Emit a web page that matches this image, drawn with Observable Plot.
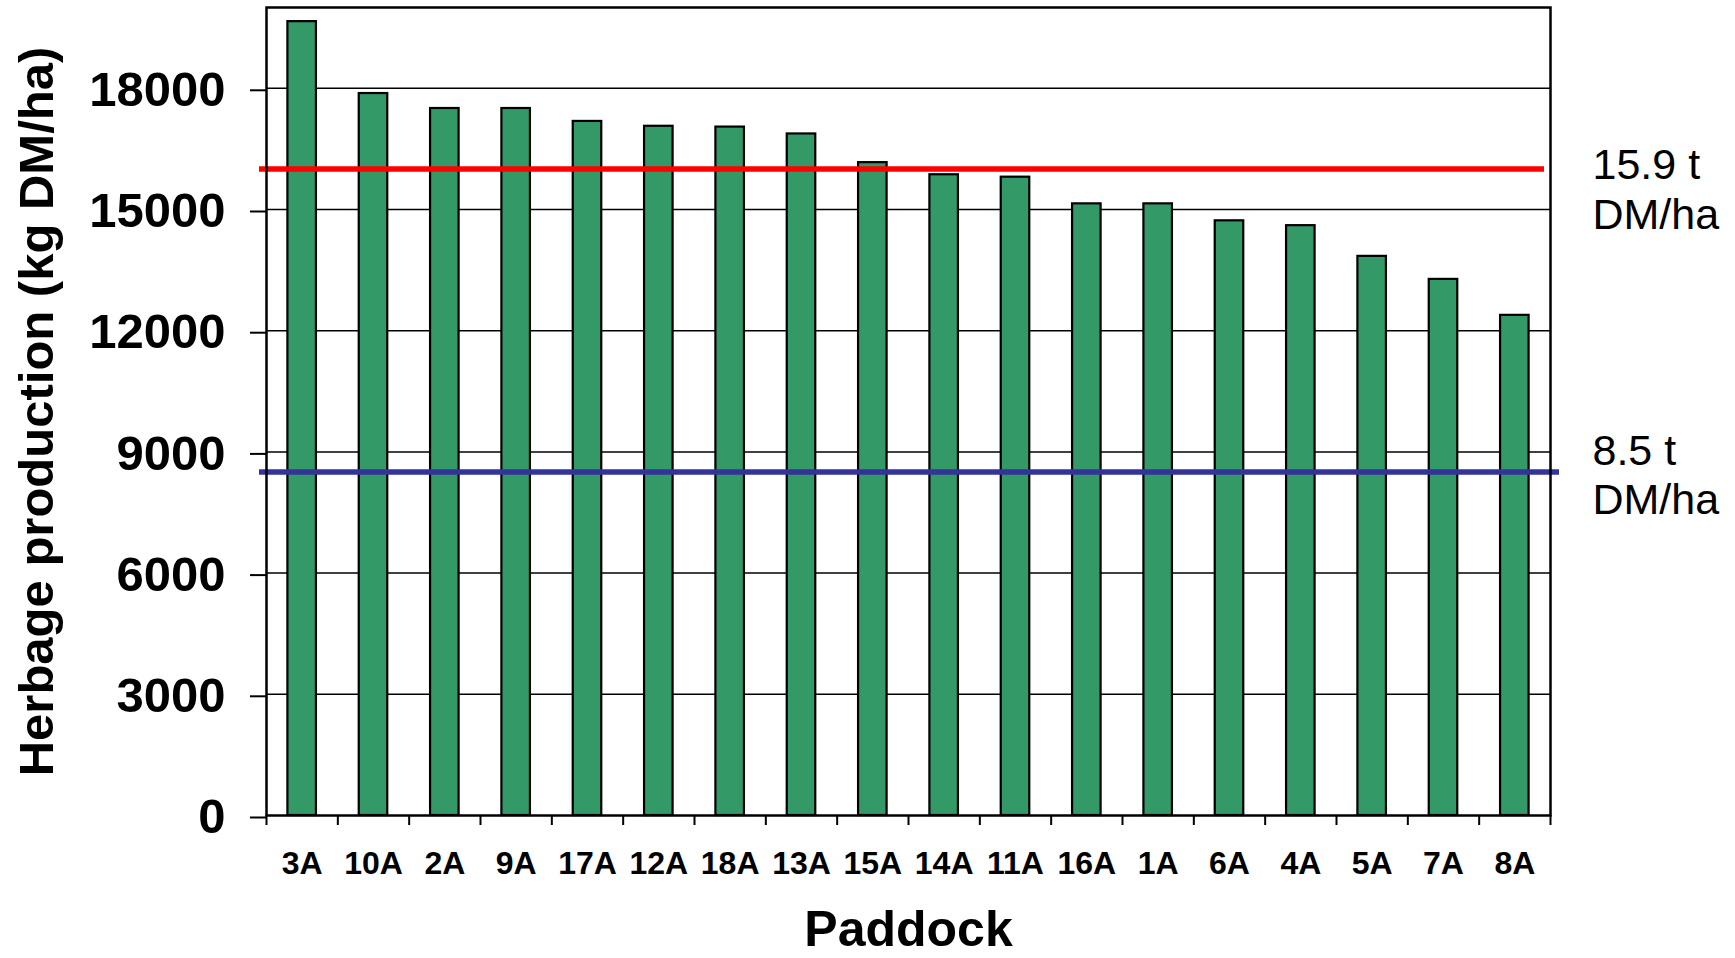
<!DOCTYPE html>
<html><head><meta charset="utf-8">
<script src="https://cdn.jsdelivr.net/npm/d3@7"></script>
<script src="https://cdn.jsdelivr.net/npm/@observablehq/plot@0.6"></script>
<style>html,body{margin:0;padding:0;background:#fff;}</style>
</head><body><div id="chart"></div>
<script>
const paddocks = ["3A","10A","2A","9A","17A","12A","18A","13A","15A","14A","11A","16A","1A","6A","4A","5A","7A","8A"];
const production = [19650,17870,17500,17500,17180,17060,17040,16870,16160,15860,15800,15140,15140,14720,14600,13840,13270,12380];
const yTicks = [0,3000,6000,9000,12000,15000,18000];
const highRef = 16000;
const lowRef = 8500;
const highLabel = "15.9 t\nDM/ha";
const lowLabel = "8.5 t\nDM/ha";
const xTitle = "Paddock";
const yTitle = "Herbage production (kg DM/ha)";

const data = paddocks.map((p, i) => ({paddock: p, value: production[i]}));

const W = 1735, H = 958;
const mL = 266, mR = 185, mT = 7, mB = 143;
const step = (W - mL - mR) / paddocks.length;
const font = "'Liberation Sans', Arial, Helvetica, sans-serif";

const chart = Plot.plot({
  width: W, height: H,
  marginLeft: mL, marginRight: mR, marginTop: mT, marginBottom: mB,
  style: {fontFamily: font, background: "#fff", color: "#000"},
  x: {domain: paddocks, type: "band", paddingInner: 0.6, paddingOuter: 0.3, round: false, label: null},
  y: {domain: [0, 20000], label: null},
  marks: [
    Plot.ruleY(yTicks.filter(d => d > 0), {stroke: "#000", strokeWidth: 1.5}),
    Plot.barY(data, {x: "paddock", y: "value", fill: "#339966", stroke: "#000", strokeWidth: 2.2}),
    Plot.ruleY([highRef], {stroke: "#ff0000", strokeWidth: 5.5, insetLeft: -7, insetRight: 6}),
    Plot.ruleY([lowRef], {stroke: "#333399", strokeWidth: 5.5, insetLeft: -7, insetRight: -9}),
    Plot.frame({stroke: "#000", strokeWidth: 2.5}),
    Plot.axisY({ticks: yTicks, tickSize: 16, tickPadding: 25, strokeWidth: 2,
      fontSize: 49, fontWeight: "bold", dy: 2, label: null, tickFormat: d => String(d)}),
    Plot.axisX({ticks: paddocks, tickSize: 10, fill: "none", strokeWidth: 2, dx: -step / 2, label: null}),
    Plot.axisX({ticks: [paddocks[paddocks.length - 1]], tickSize: 10, fill: "none", strokeWidth: 2, dx: step / 2, label: null}),
    Plot.axisX({ticks: paddocks, tickSize: 0, tickPadding: 36, fontSize: 32, fontWeight: "bold", label: null}),
    Plot.text([highLabel], {y: () => highRef, frameAnchor: "right", dx: 42, dy: 19, textAnchor: "start",
      lineAnchor: "middle", lineHeight: 1.16, fontSize: 43, fill: "#000"}),
    Plot.text([lowLabel], {y: () => lowRef, frameAnchor: "right", dx: 42, dy: 1.5, textAnchor: "start",
      lineAnchor: "middle", lineHeight: 1.16, fontSize: 43, fill: "#000"}),
    Plot.text([xTitle], {frameAnchor: "bottom", dy: 130, lineAnchor: "bottom", fontSize: 50, fontWeight: "bold", fill: "#000"}),
    Plot.text([yTitle], {frameAnchor: "left", dx: -214, rotate: -90, textAnchor: "middle", lineAnchor: "bottom",
      fontSize: 49, fontWeight: "bold", fill: "#000"})
  ]
});
document.getElementById("chart").appendChild(chart);
</script>
</body></html>
